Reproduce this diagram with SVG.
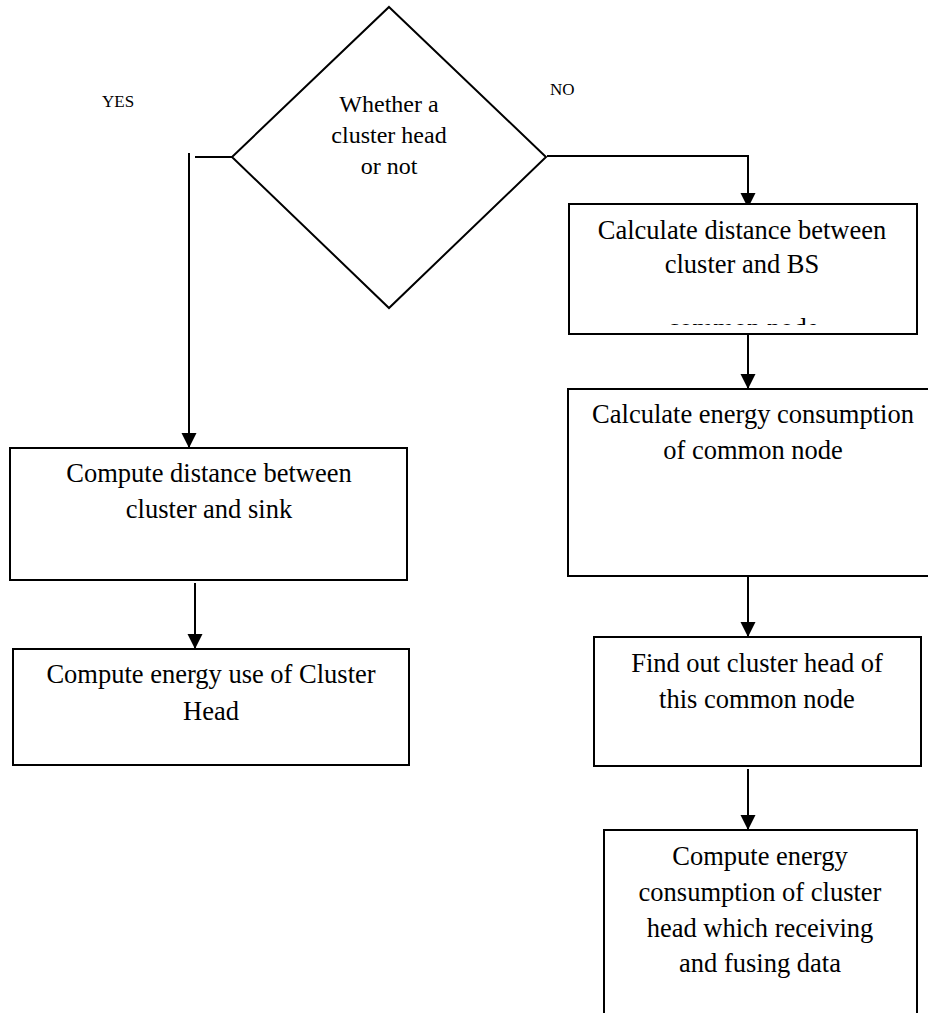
<svg xmlns="http://www.w3.org/2000/svg" width="928" height="1013" viewBox="0 0 928 1013">
<style>
.shape{fill:#fff;stroke:#000;stroke-width:2}
.t{font-family:"Liberation Serif","Times New Roman",serif;font-size:26.5px;fill:#000;text-anchor:middle}
.d{font-family:"Liberation Serif","Times New Roman",serif;font-size:24px;fill:#000;text-anchor:middle}
.lbl{font-family:"Liberation Serif","Times New Roman",serif;font-size:17px;fill:#000}
.c{fill:none;stroke:#000;stroke-width:2}
</style>
<defs>
<marker id="ah" markerUnits="userSpaceOnUse" markerWidth="16" markerHeight="16" refX="15" refY="7.5" orient="auto">
<path d="M0,0 L15,7.5 L0,15 z" fill="#000"/>
</marker>
<clipPath id="clipCN"><rect x="560" y="300" width="360" height="25"/></clipPath>
</defs>
<rect width="928" height="1013" fill="#fff"/>
<g id="connectors">
<line class="c" x1="189" y1="153" x2="189" y2="448" marker-end="url(#ah)"/>
<line class="c" x1="195" y1="157" x2="232" y2="157"/>
<polyline class="c" points="547,156 748,156 748,208" marker-end="url(#ah)"/>
<line class="c" x1="748" y1="334" x2="748" y2="389" marker-end="url(#ah)"/>
<line class="c" x1="748" y1="576" x2="748" y2="637" marker-end="url(#ah)"/>
<line class="c" x1="748" y1="769" x2="748" y2="830" marker-end="url(#ah)"/>
<line class="c" x1="195" y1="583" x2="195" y2="649" marker-end="url(#ah)"/>
</g>
<g id="decision">
<polygon class="shape" points="389,7 546,157 389,308 232,157"/>
<text class="d" x="389" y="112">Whether a</text>
<text class="d" x="389" y="143">cluster head</text>
<text class="d" x="389" y="174">or not</text>
</g>
<g id="label-yes"><text class="lbl" x="102" y="107">YES</text></g>
<g id="label-no"><text class="lbl" x="550" y="95">NO</text></g>
<g id="calc-distance">
<rect class="shape" x="569" y="204" width="348" height="130"/>
<text class="t" x="742" y="239">Calculate distance between</text>
<text class="t" x="742" y="273">cluster and BS</text>
<text class="t" x="743" y="337" clip-path="url(#clipCN)">common node</text>
</g>
<g id="calc-energy">
<rect class="shape" x="568" y="389" width="380" height="187"/>
<text class="t" x="753" y="423">Calculate energy consumption</text>
<text class="t" x="753" y="459">of common node</text>
</g>
<g id="find-head">
<rect class="shape" x="594" y="637" width="327" height="129"/>
<text class="t" x="757" y="672">Find out cluster head of</text>
<text class="t" x="757" y="708">this common node</text>
</g>
<g id="compute-fusing">
<rect class="shape" x="604" y="830" width="313" height="200"/>
<text class="t" x="760" y="865">Compute energy</text>
<text class="t" x="760" y="901">consumption of cluster</text>
<text class="t" x="760" y="937">head which receiving</text>
<text class="t" x="760" y="972">and fusing data</text>
</g>
<g id="compute-distance">
<rect class="shape" x="10" y="448" width="397" height="132"/>
<text class="t" x="209" y="482">Compute distance between</text>
<text class="t" x="209" y="518">cluster and sink</text>
</g>
<g id="compute-energy-head">
<rect class="shape" x="13" y="649" width="396" height="116"/>
<text class="t" x="211" y="683">Compute energy use of Cluster</text>
<text class="t" x="211" y="720">Head</text>
</g>
</svg>
